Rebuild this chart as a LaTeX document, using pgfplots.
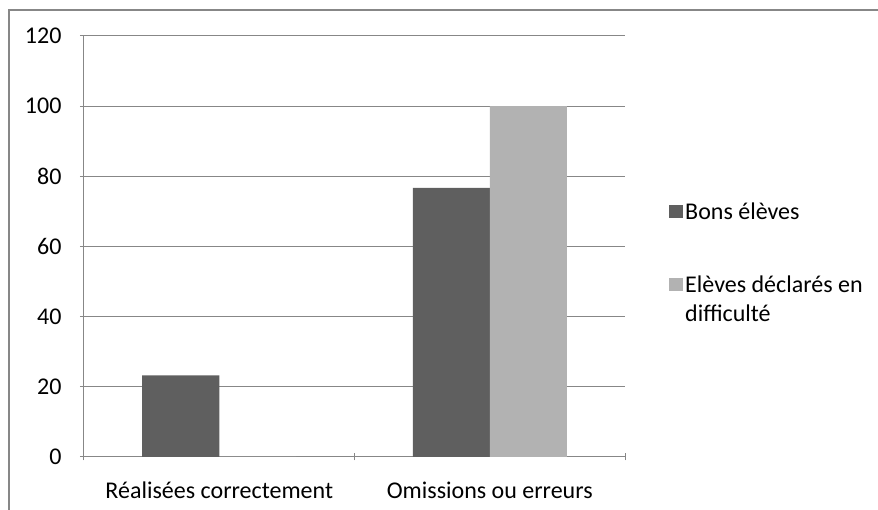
\documentclass[border=0pt]{standalone}
\usepackage{fontspec}
\setmainfont{Carlito}
\usepackage{pgfplots}
\pgfplotsset{compat=1.18}
\definecolor{bons}{HTML}{5F5F5F}
\definecolor{diff}{HTML}{B2B2B2}
\definecolor{axisgray}{HTML}{878787}
\begin{document}
\begin{tikzpicture}[x=1pt,y=1pt]
\useasboundingbox (0,0) rectangle (878,510);
\begin{axis}[
  at={(84pt,53pt)}, anchor=south west,
  scale only axis,
  width=541pt, height=421pt,
  font=\fontsize{24}{29}\selectfont,
  ybar=0pt, bar width=77pt,
  xmin=0, xmax=2,
  ymin=0, ymax=120,
  ytick={0,20,40,60,80,100,120},
  yticklabels={0,20,40,60,80,100,120},
  xtick={0.5,1.5},
  xticklabels={Réalisées correctement, Omissions ou erreurs},
  minor xtick={0,1,2},
  major x tick style={draw=none},
  minor tick length=7pt,
  major tick length=8pt,
  tick align=outside,
  axis lines=left,
  axis line style={-, axisgray, line width=1pt},
  every tick/.style={axisgray, line width=1pt},
  ymajorgrids,
  grid style={axisgray, line width=1pt},
  yticklabel style={xshift=-15pt},
  xticklabel style={yshift=-17pt},
  legend style={at={(582pt,258pt)}, anchor=north west, draw=none,
    font=\fontsize{24}{29}\selectfont, cells={anchor=base west},
    row sep=47pt},
  legend image code/.code={\fill[#1] (-4pt,1.5pt) rectangle (10pt,15pt);},
]
\addplot[fill=bons, draw=none] coordinates {(0.5,23.3) (1.5,76.7)};
\addplot[fill=diff, draw=none] coordinates {(0.5,0) (1.5,100)};
\legend{Bons élèves, {\begin{tabular}[t]{@{}l@{}}Elèves déclarés en\\difficulté\end{tabular}}}
\end{axis}
\draw[axisgray, line width=2pt] (9,0) -- (9,500) -- (878,500);
\end{tikzpicture}
\end{document}
